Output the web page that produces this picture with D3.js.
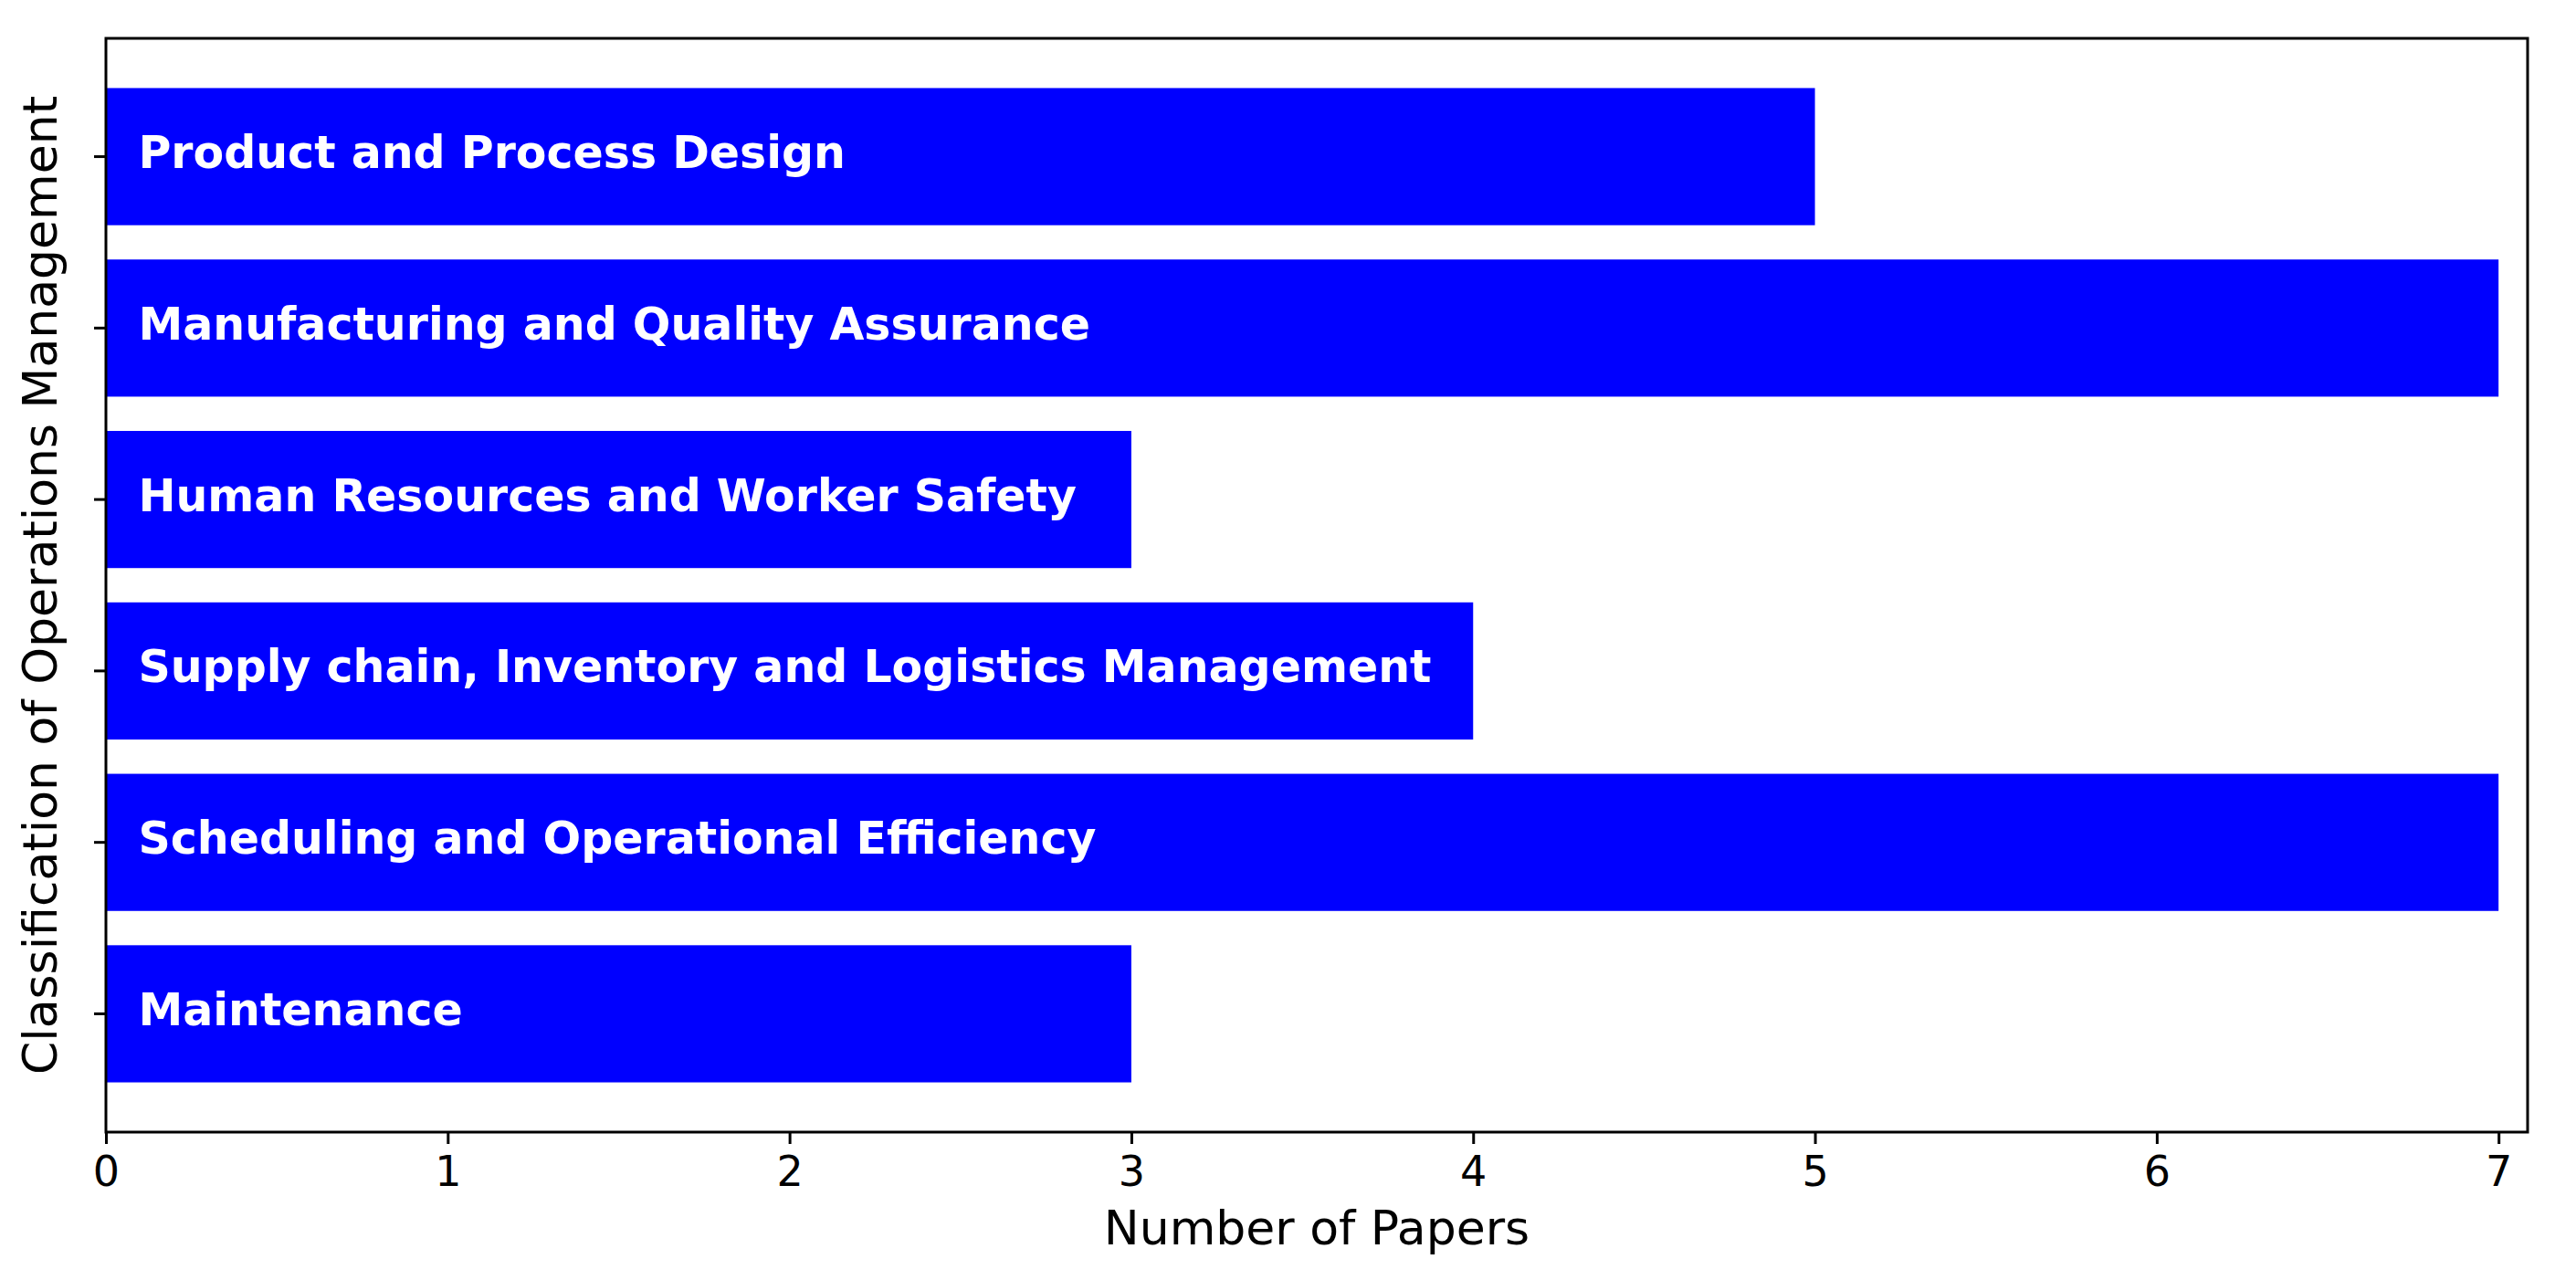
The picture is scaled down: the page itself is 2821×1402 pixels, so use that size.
<!DOCTYPE html>
<html>
<head>
<meta charset="utf-8">
<script src="https://cdn.jsdelivr.net/npm/d3@7"></script>
<style>
  html, body { margin: 0; padding: 0; background: #fff; }
  text { font-family: "DejaVu Sans", sans-serif; }
</style>
</head>
<body>
<script>
// categories listed top to bottom, as drawn
const categories = [
  'Product and Process Design',
  'Manufacturing and Quality Assurance',
  'Human Resources and Worker Safety',
  'Supply chain, Inventory and Logistics Management',
  'Scheduling and Operational Efficiency',
  'Maintenance'
]
const papers = [5, 7, 3, 4, 7, 3]
const xTicks = [0, 1, 2, 3, 4, 5, 6, 7]
const xMax = 7.085

const width = 2821, height = 1402
const margins = {top: 42, right: 53, bottom: 162, left: 116}

const svg = d3.select('body').append('svg')
  .attr('width', width)
  .attr('height', height)

const x = d3.scaleLinear()
  .domain([0, xMax])
  .range([margins.left, width - margins.right])

const y = d3.scaleBand()
  .domain(categories)
  .range([margins.top, height - margins.bottom])
  .paddingInner(0.2)
  .paddingOuter(0.29)

const rows = categories.map((c, i) => ({name: c, value: papers[i]}))

svg.append('g')
  .selectAll('rect')
  .data(rows)
  .join('rect')
    .attr('x', x(0))
    .attr('y', d => y(d.name))
    .attr('width', d => x(d.value) - x(0))
    .attr('height', y.bandwidth())
    .attr('fill', '#0000ff')

svg.append('g')
  .selectAll('text')
  .data(rows)
  .join('text')
    .attr('x', x(0.1) - 2)
    .attr('y', d => y(d.name) + y.bandwidth() / 2 + 12.5)
    .attr('fill', '#fff')
    .attr('font-size', 49)
    .attr('font-weight', 'bold')
    .text(d => d.name)

// x axis
const xAxis = svg.append('g')
  .attr('transform', `translate(0, ${height - margins.bottom})`)
  .call(d3.axisBottom(x).tickValues(xTicks).tickFormat(d3.format('d')).tickSize(13).tickPadding(13))
xAxis.select('.domain').remove()
xAxis.selectAll('line').attr('stroke', '#000').attr('stroke-width', 3)
xAxis.selectAll('text').attr('font-size', 46).attr('fill', '#000')
  .attr('font-family', '"DejaVu Sans", sans-serif')

// y axis, ticks only
const yAxis = svg.append('g')
  .attr('transform', `translate(${margins.left}, 0)`)
  .call(d3.axisLeft(y).tickSize(13).tickFormat(''))
yAxis.select('.domain').remove()
yAxis.selectAll('line').attr('stroke', '#000').attr('stroke-width', 3)

// frame
svg.append('rect')
  .attr('x', margins.left)
  .attr('y', margins.top)
  .attr('width', width - margins.right - margins.left)
  .attr('height', height - margins.bottom - margins.top)
  .attr('fill', 'none')
  .attr('stroke', '#000')
  .attr('stroke-width', 3)

svg.append('text')
  .attr('x', (margins.left + width - margins.right) / 2)
  .attr('y', 1363)
  .attr('text-anchor', 'middle')
  .attr('font-size', 52)
  .text('Number of Papers')

svg.append('text')
  .attr('transform', `translate(62, ${(margins.top + height - margins.bottom) / 2}) rotate(-90)`)
  .attr('text-anchor', 'middle')
  .attr('font-size', 52)
  .text('Classification of Operations Management')
</script>
</body>
</html>
